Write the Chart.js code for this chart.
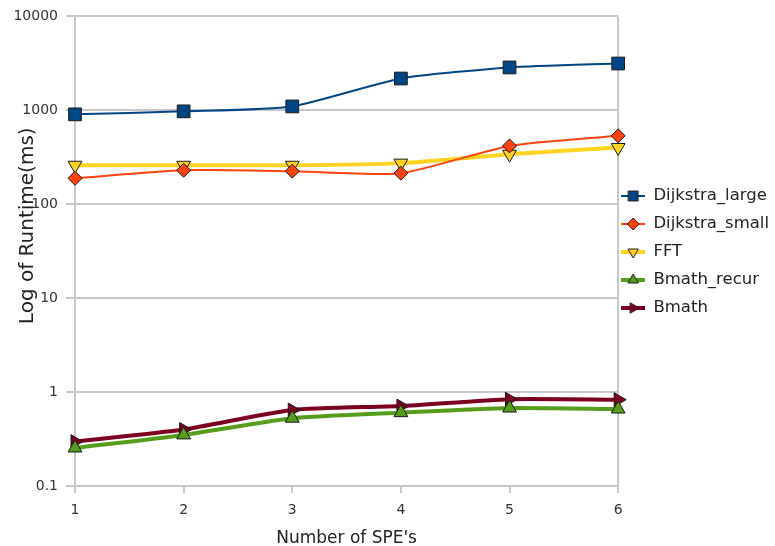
<!DOCTYPE html>
<html>
<head>
<meta charset="utf-8">
<script src="https://cdn.jsdelivr.net/npm/chart.js@4/dist/chart.umd.min.js"></script>
<style>
  html, body { margin: 0; padding: 0; background: #fff; }
  #wrap { width: 775px; height: 546px; }
</style>
</head>
<body>
<div id="wrap"><canvas id="grafic"></canvas></div>
<script>
const speLabels = ['1', '2', '3', '4', '5', '6'];
const yTicks = [0.1, 1, 10, 100, 1000, 10000];

const dijkstraLarge = [906, 975, 1100, 2180, 2860, 3150];
const dijkstraSmall = [189, 230, 225, 214, 418, 535];
const fft = [260, 260, 260, 274, 341, 402];
const bmathRecur = [0.254, 0.35, 0.527, 0.604, 0.676, 0.66];
const bmath = [0.297, 0.40, 0.645, 0.71, 0.84, 0.83];

const gridGray = '#c8c8c8';
const fontFam = 'DejaVu Sans';

function serie(label, data, color, width, style, radius, rotation) {
    return {
        label: label,
        data: data,
        borderColor: color,
        backgroundColor: color,
        borderWidth: width,
        pointStyle: style,
        pointRadius: radius,
        pointHoverRadius: radius,
        pointRotation: rotation,
        pointBackgroundColor: color,
        pointBorderColor: '#1a1a1a',
        pointBorderWidth: 1,
        tension: 0.2,
        clip: false
    };
}

// petit dibuix de la llegenda: línia + marcador
function marcaLlegenda(ds) {
    const c = document.createElement('canvas');
    c.width = 24;
    c.height = 18;
    const g = c.getContext('2d');
    g.strokeStyle = ds.borderColor;
    g.lineWidth = ds.borderWidth;
    g.beginPath();
    g.moveTo(0, 9);
    g.lineTo(24, 9);
    g.stroke();
    g.fillStyle = ds.pointBackgroundColor;
    g.strokeStyle = ds.pointBorderColor;
    g.lineWidth = 1;
    Chart.helpers.drawPoint(g, {
        pointStyle: ds.pointStyle,
        radius: ds.pointStyle === 'rect' ? 7 : 6,
        rotation: ds.pointRotation,
        borderWidth: 1
    }, 12, 9);
    return c;
}

new Chart(document.getElementById('grafic'), {
    type: 'line',
    data: {
        labels: speLabels,
        datasets: [
            serie('Dijkstra_large', dijkstraLarge, '#004586', 2, 'rect', 9, 0),
            serie('Dijkstra_small', dijkstraSmall, '#ff420e', 2, 'rectRot', 7, 0),
            serie('FFT', fft, '#ffd320', 4, 'triangle', 8, 180),
            serie('Bmath_recur', bmathRecur, '#579d1c', 4, 'triangle', 8, 0),
            serie('Bmath', bmath, '#7e0021', 4, 'triangle', 8, 90)
        ]
    },
    options: {
        responsive: true,
        maintainAspectRatio: false,
        animation: false,
        layout: { padding: { left: 0, right: -4, top: 15, bottom: 0 } },
        plugins: {
            legend: {
                display: true,
                position: 'right',
                fullSize: false,
                // títol buit: només baixa una mica les entrades
                title: { display: true, text: ' ', font: { size: 1, lineHeight: 1 }, padding: { top: 9, bottom: 0 } },
                labels: {
                    usePointStyle: true,
                    pointStyleWidth: 24,
                    font: { family: fontFam, size: 16.5, lineHeight: 25 / 16.5 },
                    color: '#222',
                    padding: 3,
                    generateLabels: chart => chart.data.datasets.map((ds, i) => ({
                        text: [ds.label],
                        fontColor: '#222',
                        pointStyle: marcaLlegenda(ds),
                        datasetIndex: i,
                        hidden: false,
                        lineWidth: 0
                    }))
                }
            },
            tooltip: { enabled: false }
        },
        scales: {
            x: {
                type: 'category',
                offset: false,
                afterFit: axis => { axis.height = 60; },
                grid: {
                    color: c => (c.index === 0 || c.index === 5) ? gridGray : 'rgba(0,0,0,0)',
                    tickColor: gridGray,
                    lineWidth: 2,
                    tickLength: 7
                },
                border: { color: gridGray, width: 2 },
                ticks: { font: { family: fontFam, size: 14 }, color: '#333', padding: 9 },
                title: {
                    display: true,
                    text: "Number of SPE's",
                    font: { family: fontFam, size: 17 },
                    color: '#222',
                    padding: { top: 0, bottom: -3 }
                }
            },
            y: {
                type: 'logarithmic',
                min: yTicks[0],
                max: yTicks[yTicks.length - 1],
                afterFit: axis => { axis.width = 75; },
                afterBuildTicks: axis => {
                    axis.ticks = yTicks.map(v => ({ value: v }));
                },
                grid: { color: gridGray, lineWidth: 2, tickLength: 9 },
                border: { color: gridGray, width: 2 },
                ticks: {
                    font: { family: fontFam, size: 14 },
                    color: '#333',
                    padding: 8,
                    callback: v => String(v)
                },
                title: {
                    display: true,
                    // espais al davant: el títol queda una mica més amunt, com a l'original
                    text: '        Log of Runtime(ms)',
                    font: { family: fontFam, size: 20 },
                    color: '#222',
                    padding: { top: 16, bottom: 0 }
                }
            }
        }
    }
});
</script>
</body>
</html>
